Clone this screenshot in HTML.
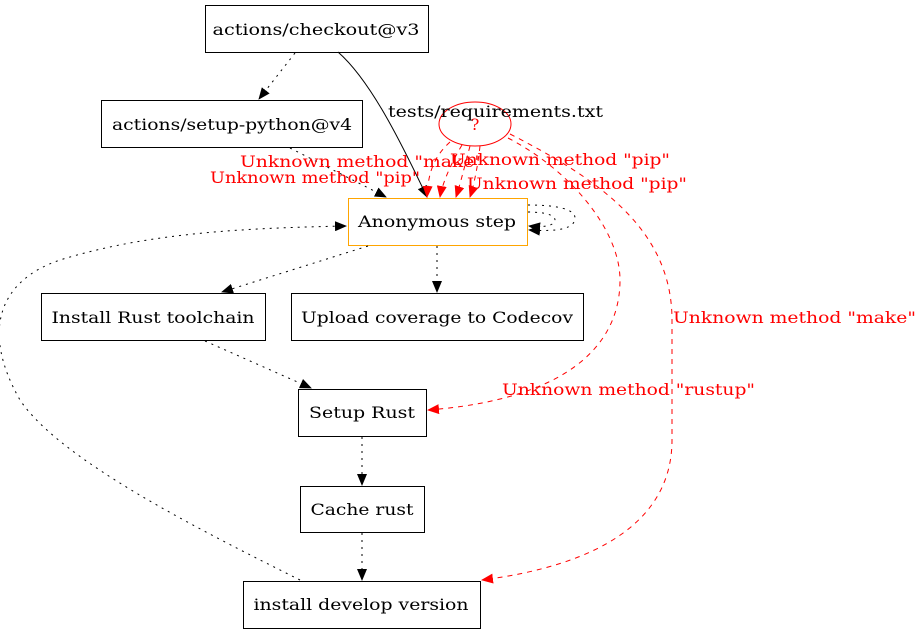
<!DOCTYPE html>
<html><head><meta charset="utf-8"><style>
html,body{margin:0;padding:0;background:#fff;width:922px;height:635px;overflow:hidden}
text{font-family:"DejaVu Serif","Liberation Serif",serif;font-size:16px}
</style></head><body>
<svg width="922" height="635" viewBox="0 0 922 635" xmlns="http://www.w3.org/2000/svg">
<defs>
<marker id="a" markerWidth="12" markerHeight="10" refX="11" refY="5" orient="auto" markerUnits="userSpaceOnUse"><path d="M0,0 L12,5 L0,10z" fill="#000"/></marker>
<marker id="r" markerWidth="12" markerHeight="10" refX="11" refY="5" orient="auto" markerUnits="userSpaceOnUse"><path d="M0,0 L12,5 L0,10z" fill="red"/></marker>
</defs>
<g fill="none" stroke="#000" stroke-width="1">
<rect x="205.5" y="5.5" width="223" height="47"/>
<rect x="101.5" y="100.5" width="261" height="47"/>
<rect x="348.5" y="198.5" width="179" height="47" stroke="orange"/>
<rect x="41.5" y="293.5" width="224" height="47"/>
<rect x="291.5" y="293.5" width="292" height="47"/>
<rect x="298.5" y="389.5" width="128" height="47"/>
<rect x="300.5" y="486.5" width="124" height="46"/>
<rect x="243.5" y="581.5" width="237" height="47"/>
<ellipse cx="475" cy="124" rx="36" ry="22" stroke="red"/>
</g>
<g fill="none" stroke="#000" stroke-dasharray="2,5">
<path d="M295,53 L259,99" marker-end="url(#a)"/>
<path d="M290,148 L386,197" marker-end="url(#a)"/>
<path d="M368,246 L222,292" marker-end="url(#a)"/>
<path d="M437,246 L437,292" marker-end="url(#a)"/>
<path d="M205,341 L311,388" marker-end="url(#a)"/>
<path d="M362,437 L362,485" marker-end="url(#a)"/>
<path d="M362,533 L362,580" marker-end="url(#a)"/>
<path d="M300,580 C200,530 60,460 20,400 C-20,330 0,280 60,260 C150,232 250,228 346,226" marker-end="url(#a)"/>
<path d="M528,205 C560,205 575,210 575,218 C575,228 560,232 529,230" marker-end="url(#a)"/>
<path d="M528,212 C545,212 555,215 555,220 C555,225 545,228 529,226" marker-end="url(#a)"/>
</g>
<path d="M338,52 C370,80 400,140 427,197" fill="none" stroke="#000" marker-end="url(#a)"/>
<g fill="none" stroke="red" stroke-dasharray="5,5">
<path d="M450,142 C430,160 428,180 427,197" marker-end="url(#r)"/>
<path d="M462,145 C450,165 442,185 440,197" marker-end="url(#r)"/>
<path d="M470,146 C465,165 460,185 456,197" marker-end="url(#r)"/>
<path d="M480,146 C478,165 474,185 470,197" marker-end="url(#r)"/>
<path d="M508,138 C570,170 620,230 620,280 C620,350 560,400 428,410" marker-end="url(#r)"/>
<path d="M510,134 C600,180 672,230 672,320 L672,440 C672,520 600,565 482,580" marker-end="url(#r)"/>
</g>
<g text-anchor="middle" lengthAdjust="spacingAndGlyphs">
<text x="316" y="35" textLength="207" lengthAdjust="spacingAndGlyphs">actions/checkout@v3</text>
<text x="232" y="130" textLength="240" lengthAdjust="spacingAndGlyphs">actions/setup-python@v4</text>
<text x="437" y="227" textLength="158" lengthAdjust="spacingAndGlyphs">Anonymous step</text>
<text x="153" y="323" textLength="203" lengthAdjust="spacingAndGlyphs">Install Rust toolchain</text>
<text x="437" y="323" textLength="272" lengthAdjust="spacingAndGlyphs">Upload coverage to Codecov</text>
<text x="362" y="418" textLength="106" lengthAdjust="spacingAndGlyphs">Setup Rust</text>
<text x="362" y="515" textLength="103" lengthAdjust="spacingAndGlyphs">Cache rust</text>
<text x="361" y="610" textLength="215" lengthAdjust="spacingAndGlyphs">install develop version</text>
<text x="475" y="130" fill="red">?</text>
</g>
<text x="388" y="117" textLength="215" lengthAdjust="spacingAndGlyphs">tests/requirements.txt</text>
<g fill="red">
<text x="240" y="167" textLength="243" lengthAdjust="spacingAndGlyphs">Unknown method "make"</text>
<text x="210" y="183" textLength="210" lengthAdjust="spacingAndGlyphs">Unknown method "pip"</text>
<text x="450" y="165" textLength="220" lengthAdjust="spacingAndGlyphs">Unknown method "pip"</text>
<text x="467" y="189" textLength="220" lengthAdjust="spacingAndGlyphs">Unknown method "pip"</text>
<text x="673" y="323" textLength="243" lengthAdjust="spacingAndGlyphs">Unknown method "make"</text>
<text x="502" y="395" textLength="253" lengthAdjust="spacingAndGlyphs">Unknown method "rustup"</text>
</g>
</svg>
</body></html>
